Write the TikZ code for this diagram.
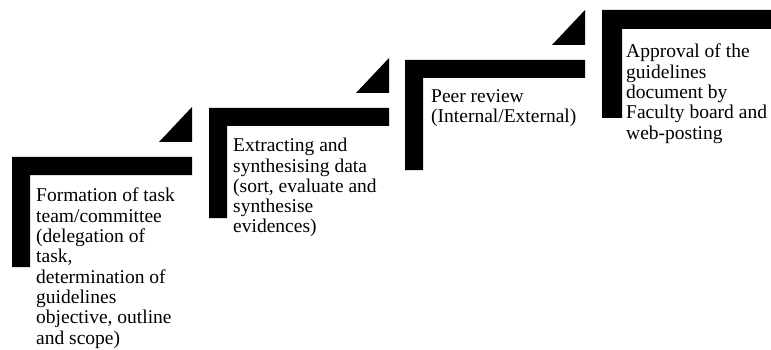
\documentclass[tikz,border=0pt]{standalone}
\usepackage{fontspec}
\setmainfont{Liberation Serif}
\usetikzlibrary{calc}

\tikzset{
    steptext/.style={anchor=north west, inner sep=0pt, align=left, font=\fontsize{19.5}{20.3}\selectfont}
}

\begin{document}
\begin{tikzpicture}[x=1pt, y=-1pt]
    \useasboundingbox (0,0) rectangle (771,350);

    % Draw the steps (L-shaped bars with a wedge above each)
    \foreach \x/\y in {12/157, 209/108, 405/60} {
        \fill (\x,\y) -- ++(180,0) -- ++(0,18) -- ++(-162,0) -- ++(0,92) -- ++(-18,0) -- cycle;
        \fill (\x+180,\y-50) -- ++(0,35) -- ++(-33,0) -- cycle;
    }

    % The last step runs off the right edge
    \fill (602,10) -- (771,10) -- (771,29) -- (622,29) -- (622,118) -- (602,118) -- cycle;

    % Step texts
    \node[steptext] (formation) at (36,188) {Formation of task\\team/committee\\(delegation of\\task,\\determination of\\guidelines\\objective, outline\\and scope)};
    \node[steptext] (extracting) at (233,138) {Extracting and\\synthesising data\\(sort, evaluate and\\synthesise\\evidences)};
    \node[steptext] (review) at (431,89) {Peer review\\(Internal/External)};
    \node[steptext] (approval) at (626,44) {Approval of the\\guidelines\\document by\\Faculty board and\\web-posting};
\end{tikzpicture}
\end{document}
